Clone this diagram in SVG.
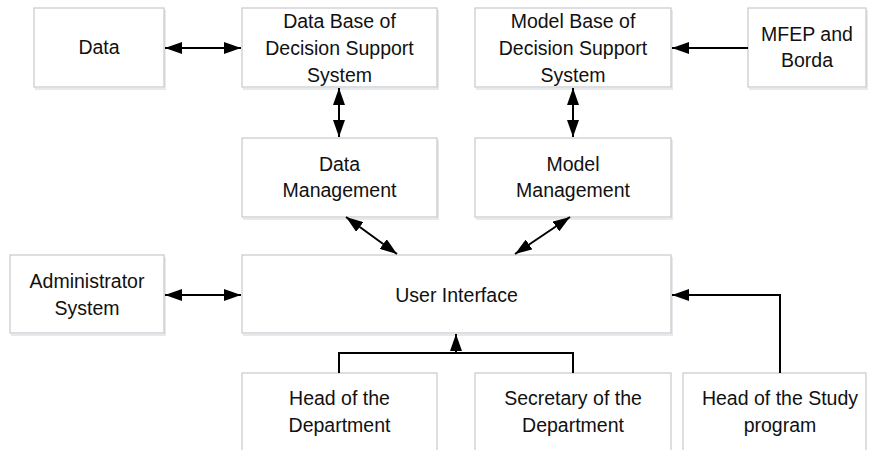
<svg xmlns="http://www.w3.org/2000/svg" width="869" height="450" viewBox="0 0 869 450">
  <style>
    .box { fill: #ffffff; stroke: #c9c9c9; stroke-width: 1.2; }
    .shadow { fill: none; stroke: #e6e9ee; stroke-width: 2; }
    .label { font-family: "Liberation Sans", Arial, sans-serif; font-size: 19.5px; fill: #111111; text-anchor: middle; }
    .link { fill: none; stroke: #000; stroke-width: 2; }
  </style>
  <defs>
    <marker id="head" viewBox="0 0 17 12" refX="17" refY="6" markerWidth="17" markerHeight="12" markerUnits="userSpaceOnUse" orient="auto-start-reverse">
      <path d="M0,0 L17,6 L0,12 Z" fill="#000"/>
    </marker>
  </defs>
  <rect width="869" height="450" fill="#ffffff"/>

  <g id="node-data">
    <polyline class="shadow" points="35,89 165,89 165,10"/>
    <rect class="box" x="34" y="8" width="130" height="79"/>
    <text class="label" x="99" y="54">Data</text>
  </g>
  <g id="node-database">
    <polyline class="shadow" points="243,89 438,89 438,10"/>
    <rect class="box" x="242" y="8" width="195" height="79"/>
    <text class="label" x="339.5" y="28">Data Base of</text>
    <text class="label" x="339.5" y="55">Decision Support</text>
    <text class="label" x="339.5" y="82">System</text>
  </g>
  <g id="node-modelbase">
    <polyline class="shadow" points="476,89 672,89 672,10"/>
    <rect class="box" x="475" y="8" width="196" height="79"/>
    <text class="label" x="573" y="28">Model Base of</text>
    <text class="label" x="573" y="55">Decision Support</text>
    <text class="label" x="573" y="82">System</text>
  </g>
  <g id="node-mfep">
    <polyline class="shadow" points="749,89 867,89 867,10"/>
    <rect class="box" x="748" y="8" width="118" height="79"/>
    <text class="label" x="807" y="41">MFEP and</text>
    <text class="label" x="807" y="67">Borda</text>
  </g>
  <g id="node-datamgmt">
    <polyline class="shadow" points="243,219 438,219 438,140"/>
    <rect class="box" x="242" y="138" width="195" height="79"/>
    <text class="label" x="339.5" y="171">Data</text>
    <text class="label" x="339.5" y="197">Management</text>
  </g>
  <g id="node-modelmgmt">
    <polyline class="shadow" points="476,219 672,219 672,140"/>
    <rect class="box" x="475" y="138" width="196" height="79"/>
    <text class="label" x="573" y="171">Model</text>
    <text class="label" x="573" y="197">Management</text>
  </g>
  <g id="node-admin">
    <polyline class="shadow" points="11,335 165,335 165,257"/>
    <rect class="box" x="10" y="255" width="154" height="78"/>
    <text class="label" x="87" y="288">Administrator</text>
    <text class="label" x="87" y="315">System</text>
  </g>
  <g id="node-ui">
    <polyline class="shadow" points="243,335 672,335 672,257"/>
    <rect class="box" x="242" y="255" width="429" height="78"/>
    <text class="label" x="456.5" y="302">User Interface</text>
  </g>
  <g id="node-headdept">
    <rect class="box" x="242" y="373" width="195" height="80"/>
    <text class="label" x="339.5" y="405">Head of the</text>
    <text class="label" x="339.5" y="432">Department</text>
  </g>
  <g id="node-secretary">
    <rect class="box" x="475" y="373" width="196" height="80"/>
    <text class="label" x="573" y="405">Secretary of the</text>
    <text class="label" x="573" y="432">Department</text>
  </g>
  <g id="node-headstudy">
    <rect class="box" x="683" y="373" width="183" height="80"/>
    <text class="label" x="780" y="405">Head of the Study</text>
    <text class="label" x="780" y="432">program</text>
  </g>

  <g id="connectors">
    <line class="link" x1="165" y1="48" x2="241" y2="48" marker-start="url(#head)" marker-end="url(#head)"/>
    <line class="link" x1="748" y1="48" x2="672" y2="48" marker-end="url(#head)"/>
    <line class="link" x1="339" y1="88" x2="339" y2="137" marker-start="url(#head)" marker-end="url(#head)"/>
    <line class="link" x1="573" y1="88" x2="573" y2="137" marker-start="url(#head)" marker-end="url(#head)"/>
    <line class="link" x1="346" y1="217" x2="397" y2="254" marker-start="url(#head)" marker-end="url(#head)"/>
    <line class="link" x1="570" y1="217" x2="515" y2="254" marker-start="url(#head)" marker-end="url(#head)"/>
    <line class="link" x1="165" y1="295" x2="241" y2="295" marker-start="url(#head)" marker-end="url(#head)"/>
    <polyline class="link" points="339,373 339,353 573,353 573,373"/>
    <line class="link" x1="456" y1="353" x2="456" y2="334" marker-end="url(#head)"/>
    <polyline class="link" points="780,373 780,295 672,295" marker-end="url(#head)"/>
  </g>
</svg>
